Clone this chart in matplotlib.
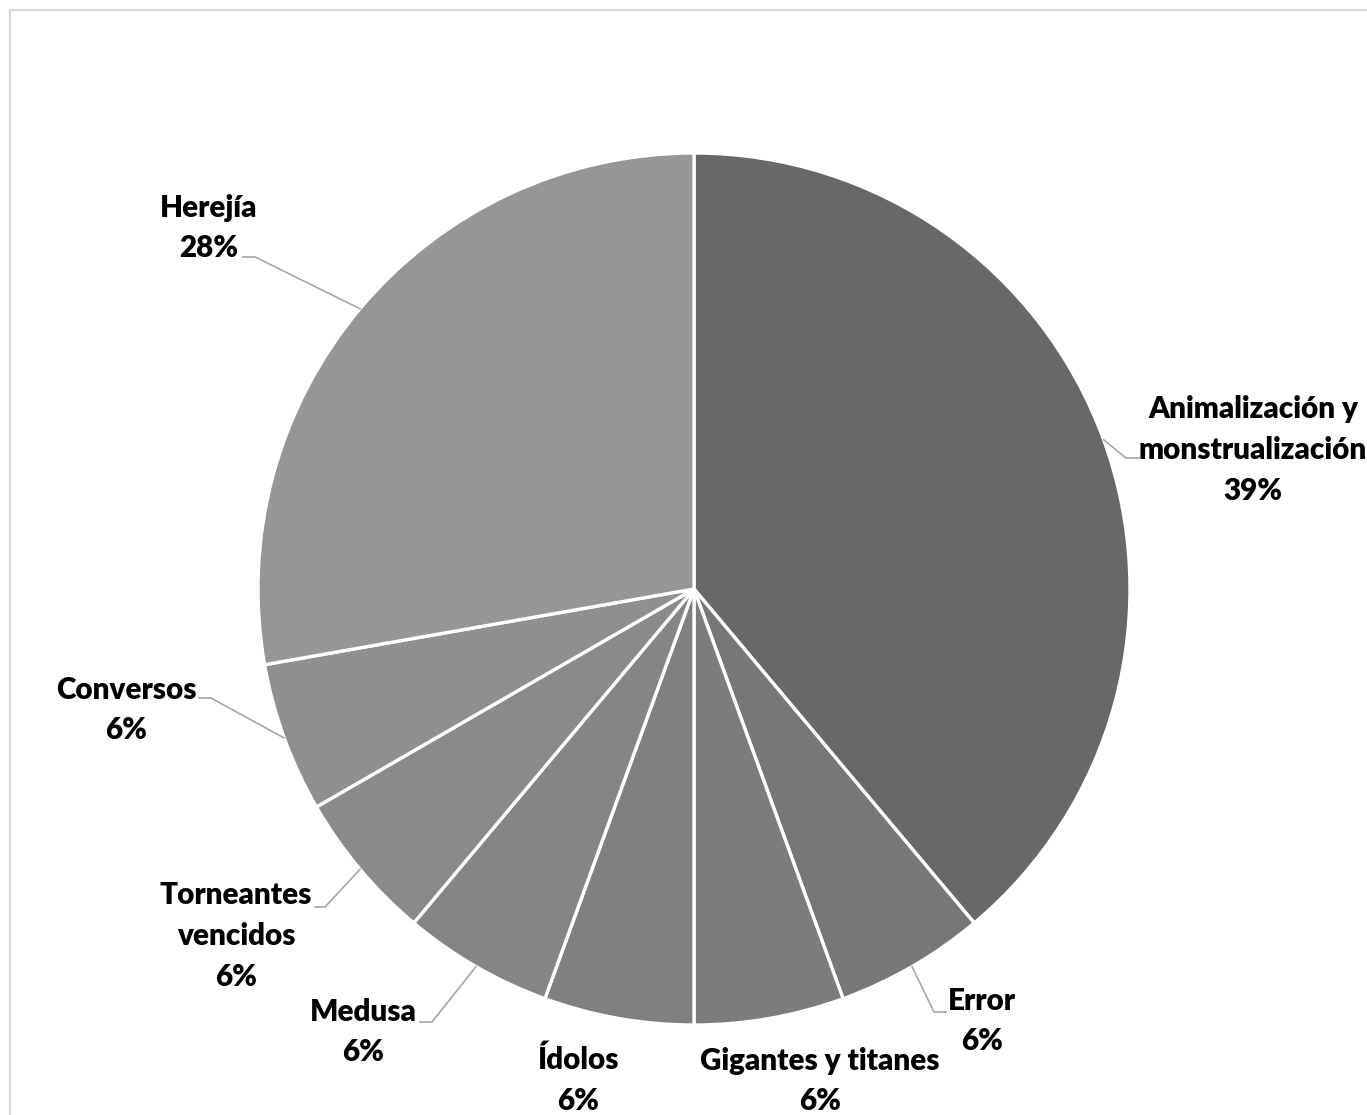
import matplotlib.pyplot as plt
import numpy as np
from matplotlib.patches import Rectangle

# ------------------------------ Datos ------------------------------
categorias = ['Animalización y\nmonstrualización', 'Error', 'Gigantes y titanes', 'Ídolos',
              'Medusa', 'Torneantes\nvencidos', 'Conversos', 'Herejía']
valores = [7, 1, 1, 1, 1, 1, 1, 5]
colores = ['#686868', '#777777', '#7c7c7c', '#808080', '#858585', '#8a8a8a', '#8f8f8f', '#969696']

# ------------------------------ Layout (pixeles de la imagen) ------------------------------
W, H = 1367, 1115
centro = (694, 589)
radio = 436
# posicion del texto de cada etiqueta
pos_texto = [(1253, 450), (982, 1021), (820, 1081), (578, 1080),
             (363, 1032), (236, 936), (126, 710), (209, 228)]
# lineas guia: codo y final (None = sin linea)
guias = [((1126, 458), (1139, 458)), ((934, 1012), (946, 1012)), None, None,
         ((432, 1022), (420, 1022)), ((325, 907), (315, 907)), ((211, 698), (199, 698)),
         ((255, 257), (243, 257))]


def px(x, y):
    return x, H - y


fig = plt.figure(figsize=(W / 100, H / 100), dpi=100)
ax = fig.add_axes([0, 0, 1, 1])
ax.set_xlim(0, W)
ax.set_ylim(0, H)
ax.set_aspect('equal')
ax.axis('off')

# borde del grafico
ax.add_patch(Rectangle(px(10, H + 100), W + 200, H + 90, fill=False, edgecolor='#d9d9d9', linewidth=1.6))

wedges, _ = ax.pie(valores, colors=colores, startangle=90, counterclock=False,
                   center=px(*centro), radius=radio,
                   wedgeprops=dict(edgecolor='white', linewidth=2.4))
ax.set_xlim(0, W)
ax.set_ylim(0, H)

total = sum(valores)
for w, cat, v, (tx, ty), g in zip(wedges, categorias, valores, pos_texto, guias):
    pct = round(100 * v / total)
    ax.text(*px(tx, ty), f'{cat}\n{pct}%', ha='center', va='center', fontsize=21.3,
            fontweight='heavy', family='Lato', linespacing=1.56, color='black', clip_on=False)
    if g is not None:
        ang = np.deg2rad((w.theta1 + w.theta2) / 2)
        cx, cy = px(*centro)
        x0, y0 = cx + radio * np.cos(ang), cy + radio * np.sin(ang)
        (ex, ey), (fx, fy) = g
        ax.plot([x0, ex, fx], [y0, H - ey, H - fy], color='#a6a6a6', linewidth=1.2,
                solid_joinstyle='miter')

plt.savefig('out.png', dpi=100)
